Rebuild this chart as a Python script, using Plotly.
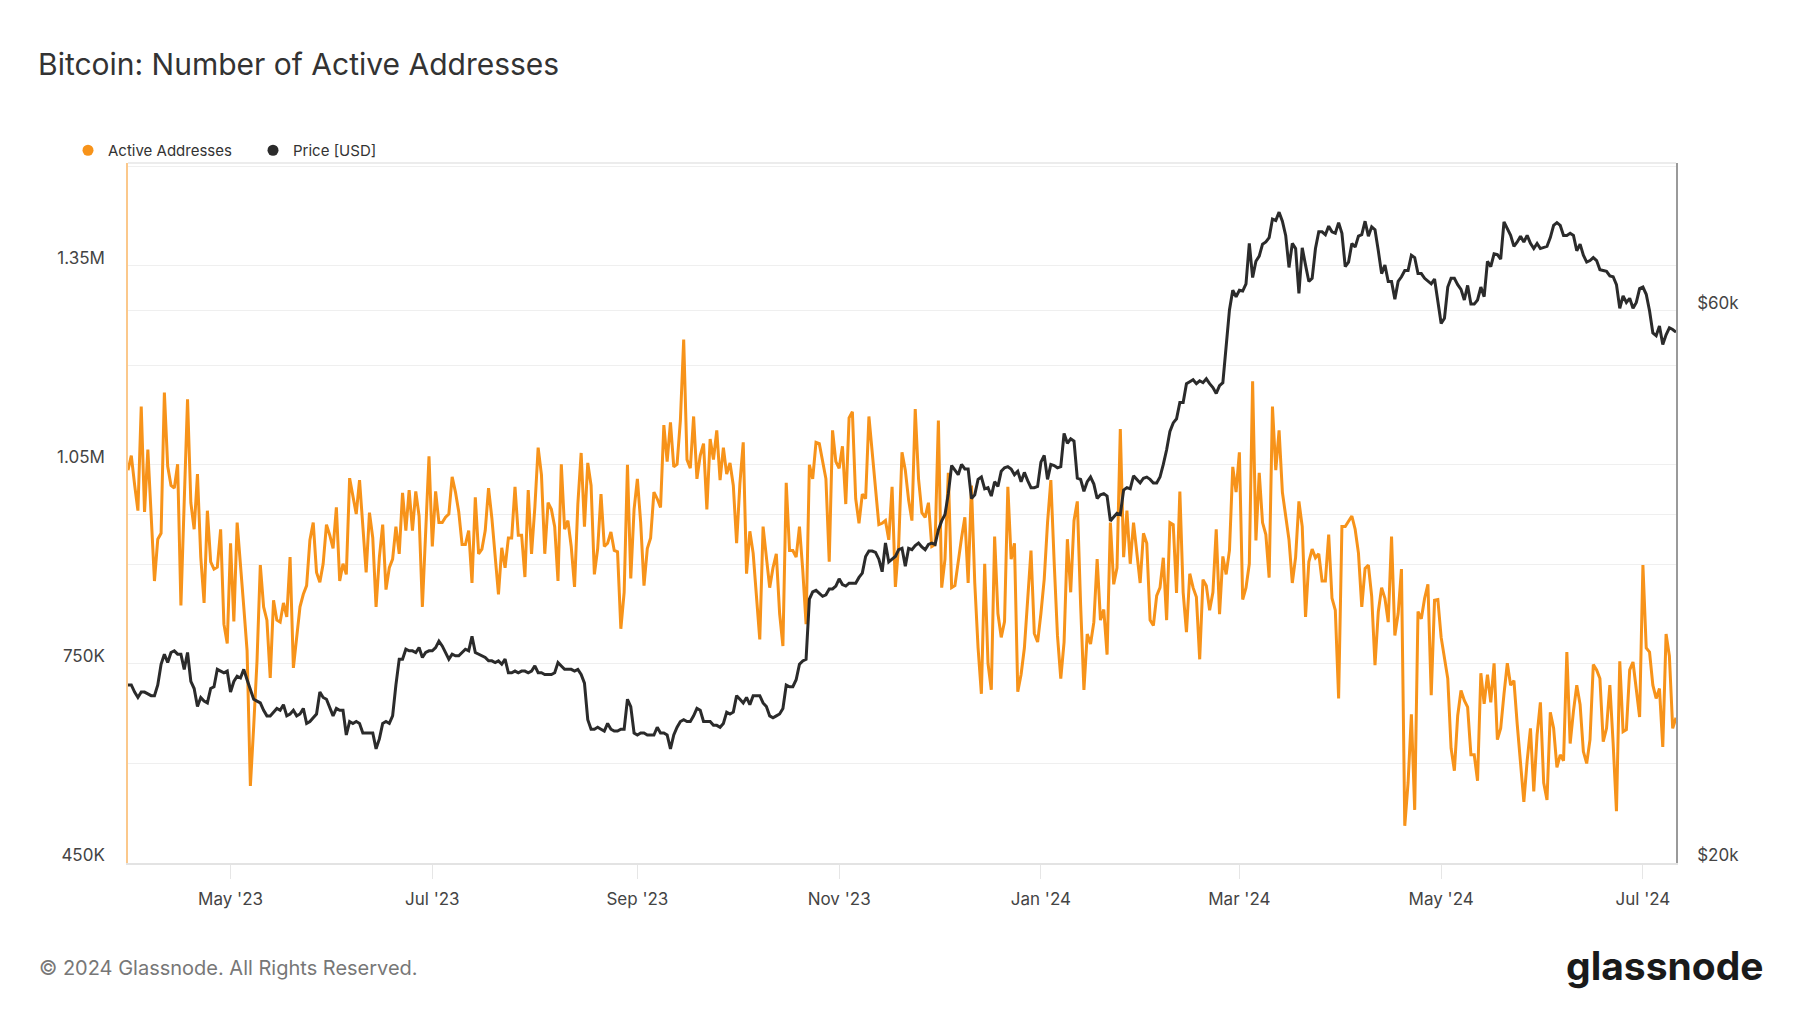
import pandas as pd
import plotly.graph_objects as go

# ---------------- data ----------------
START_DATE = "2023-03-31"

active_addresses_k = [
    1042, 1064, 1020, 981, 1138, 979, 1073, 980, 875, 938,
    947, 1159, 1048, 1019, 1015, 1051, 838, 995, 1149, 993,
    953, 1036, 911, 842, 981, 904, 893, 896, 953, 810,
    781, 932, 814, 963, 904, 836, 770, 566, 656, 754,
    899, 836, 816, 729, 846, 816, 813, 842, 821, 911,
    744, 787, 836, 855, 868, 937, 963, 888, 873, 901,
    960, 944, 924, 986, 875, 901, 885, 1030, 1002, 976,
    1027, 950, 888, 978, 940, 836, 911, 960, 862, 895,
    908, 957, 916, 1008, 951, 1012, 951, 1010, 973, 836,
    963, 1063, 927, 1010, 963, 963, 971, 976, 1032, 1009,
    979, 930, 930, 951, 872, 1001, 916, 923, 951, 1015,
    970, 911, 855, 925, 895, 940, 940, 1017, 944, 944,
    881,
    1012, 916, 986, 1076, 1035, 916, 993, 983, 957, 875,
    1051, 953, 966, 927, 866, 991, 1068, 957, 1053, 1019,
    885, 924, 1006, 927, 932, 949, 921, 919, 803, 858,
    1050, 879, 983, 1029, 963, 868, 924, 940, 1009, 999,
    986, 1110, 1055, 1114, 1047, 1051, 1117, 1239, 1058, 1045,
    1123, 1029, 1064, 1082, 983, 1089, 1058, 1102, 1027, 1076,
    1036, 1053, 1019, 932, 1022, 1084, 886, 950, 917, 855,
    787, 957, 911, 865, 895, 916, 826, 777, 1023, 921,
    921, 911, 957, 891, 810, 1050, 1029, 1084, 1082, 1056,
    1029, 904, 1102, 1055, 1045, 1078, 991, 1121, 1130, 999,
    962, 1006, 999, 1123, 1071, 1019, 960, 962, 966, 937,
    1017, 866, 930, 1069,
    1042, 997, 966, 1134, 1029, 978,
    971, 993, 927, 930, 1117, 865, 908, 1038, 865, 868,
    908, 940, 971, 872, 1019, 872, 774, 705, 901, 751,
    711, 942, 826, 790, 814, 1017, 908, 932, 708, 734,
    774, 847, 921, 796, 783, 826, 878, 963, 1027, 904,
    793, 728, 783, 938, 858, 966, 995, 839, 711, 795,
    780, 813, 908, 816, 832, 764, 963, 870, 895, 1104,
    911, 981, 901, 963, 919, 872, 947, 932, 816, 808,
    853, 865, 910, 816, 963, 960, 857, 1010, 858, 798,
    886, 865, 851, 757, 877, 868, 831, 858, 953, 825,
    912, 885, 921, 1047, 1009, 1069, 847, 865, 901, 1176,
    936, 1038, 963, 945, 880, 1138, 1042, 1102, 1009, 971,
    937, 872, 911, 995, 957, 821, 904, 923, 910, 916,
    875, 875, 945, 849, 831, 698, 957, 957, 966, 973,
    953, 917, 836, 894, 899, 852, 748, 829, 865, 849,
    813, 942, 793, 826, 893, 506, 571, 674, 530, 829,
    818, 849, 870, 703, 846, 847, 790, 761, 728, 623,
    589, 672, 710, 695, 685, 613, 613, 574, 736, 690,
    734, 692, 751, 636, 653, 705, 751, 718, 725, 659,
    604, 542, 604, 653, 558, 643, 692, 571, 545, 677,
    653, 594, 613, 604, 768, 630, 679, 718, 689, 618,
    600, 636, 749, 741, 728, 633, 653, 718, 630, 528,
    754, 648, 651, 741, 753, 715, 670, 899, 774, 768,
    718, 698, 713, 625, 795, 762, 653, 669,
]

price_usd_k = [
    28.5, 28.5, 28.1, 27.8, 28.1, 28.1, 28.0, 27.9, 27.9, 28.5,
    29.7, 30.3, 29.8, 30.4, 30.5, 30.3, 30.3, 29.4, 30.4, 28.7,
    28.3, 27.3, 27.8, 27.6, 27.5, 28.3, 28.4, 29.4, 29.3, 29.2,
    29.3, 28.1, 28.7, 29.0, 28.9, 29.4, 28.8, 28.3, 27.7, 27.6,
    27.5, 27.1, 26.8, 26.8, 27.0, 27.2, 27.1, 27.4, 26.8, 26.9,
    27.1, 26.8, 26.9, 27.2, 26.4, 26.5, 26.7, 26.9, 28.1, 27.8,
    27.7, 27.2, 26.8, 27.2, 27.1, 27.1, 25.8, 26.5, 26.4, 26.5,
    26.4, 25.9, 25.9, 25.9, 25.9, 25.1, 25.6, 26.4, 26.5, 26.4,
    26.8, 28.5, 30.0, 30.0, 30.6, 30.5, 30.5, 30.4, 30.7, 30.1,
    30.4, 30.5, 30.5, 30.7, 31.1, 30.8, 30.4, 30.0, 30.3, 30.2,
    30.2, 30.4, 30.6, 30.5, 31.4, 30.4, 30.3, 30.2, 30.1, 29.9,
    29.9, 29.8, 29.9, 29.7, 30.0, 29.2, 29.2, 29.3, 29.2, 29.3,
    29.3,
    29.2, 29.3, 29.6, 29.2, 29.2, 29.1, 29.1, 29.1, 29.2, 29.8,
    29.6, 29.4, 29.4, 29.4, 29.3, 29.4, 29.1, 28.6, 26.6, 26.1,
    26.1, 26.2, 26.1, 26.0, 26.4, 26.1, 26.0, 26.0, 26.1, 26.1,
    27.7, 27.3, 25.9, 25.8, 25.9, 25.9, 25.8, 25.8, 25.8, 26.2,
    25.9, 25.9, 25.8, 25.1, 25.8, 26.2, 26.5, 26.6, 26.5, 26.5,
    26.8, 27.2, 27.1, 26.5, 26.5, 26.5, 26.3, 26.3, 26.2, 26.4,
    27.0, 26.9, 27.0, 27.9, 27.7, 27.5, 27.8, 27.4, 27.9, 27.9,
    27.9, 27.5, 27.3, 26.8, 26.7, 26.8, 26.9, 27.2, 28.5, 28.4,
    28.4, 28.8, 29.7, 29.9, 30.0, 33.8, 34.3, 34.4, 34.2, 34.0,
    34.1, 34.5, 34.5, 34.7, 35.2, 34.8, 34.7, 34.9, 34.9, 34.9,
    35.3, 35.6, 36.8, 37.2, 37.2, 37.1, 36.6, 35.7, 37.8, 36.4,
    36.6, 36.8, 37.3, 37.4,
    36.1, 37.4, 37.3, 37.6, 37.8, 37.5,
    37.3, 37.7, 37.8, 37.7, 38.8, 39.5, 40.0, 41.7, 44.1, 43.7,
    43.3, 44.2, 43.8, 43.8, 41.3, 41.6, 42.9, 43.1, 42.1, 42.2,
    41.5, 42.7, 42.3, 43.6, 43.9, 44.0, 43.8, 43.3, 43.6, 42.7,
    43.5, 42.8, 42.2, 42.2, 42.3, 44.4, 45.0, 42.9, 44.2, 44.1,
    43.9, 44.0, 47.0, 46.1, 46.5, 46.3, 43.0, 42.9, 41.9, 42.7,
    43.1, 42.5, 41.3, 41.6, 41.7, 41.5, 39.5, 39.8, 40.1, 40.0,
    42.0, 42.2, 42.1, 43.2, 42.9, 42.6, 43.0, 43.1, 42.9, 42.6,
    42.6, 43.1, 44.2, 45.5, 47.2, 48.0, 48.4, 50.0, 50.0, 51.9,
    52.1, 52.3, 51.9, 52.2, 52.0, 52.4, 51.9, 51.5, 50.9, 51.7,
    52.0, 55.9, 60.1, 62.5, 61.7, 62.5, 62.4, 63.3, 68.6, 64.1,
    66.2, 66.9, 68.5, 68.8, 69.4, 72.0, 71.8, 73.0, 71.7, 69.7,
    65.4, 68.6, 67.9, 62.1, 68.0, 65.7, 63.6, 64.0, 67.9, 70.2,
    70.2, 69.8, 71.0, 70.2, 70.0, 71.5, 70.0, 65.5, 66.1, 68.6,
    68.1, 69.6, 69.8, 71.7, 69.6, 70.9, 70.5, 67.6, 64.6, 65.7,
    63.6, 63.6, 61.4, 63.6, 64.2, 65.0, 65.0, 67.0, 66.7, 64.6,
    64.6, 64.0, 63.6, 63.3, 63.9, 61.0, 58.5, 59.1, 62.9, 64.0,
    64.0, 63.2, 62.6, 61.3, 63.1, 60.8, 60.8, 61.3, 62.9, 61.7,
    66.2, 65.5, 67.2, 67.1, 66.5, 71.6, 70.6, 69.7, 68.2, 68.8,
    69.6, 68.8, 69.7, 68.6, 67.9, 68.6, 67.9, 68.0, 68.2, 69.4,
    71.1, 71.5, 71.1, 69.7, 69.7, 70.0, 69.7, 67.6, 68.5, 67.0,
    66.1, 66.3, 66.7, 66.3, 65.1, 65.0, 64.9, 64.3, 64.2, 63.2,
    60.3, 61.8, 61.0, 61.5, 60.3, 61.0, 62.7, 62.9, 62.0, 60.0,
    57.4, 57.1, 58.2, 56.1, 57.2, 58.0, 57.8, 57.5,
]

x_tick_dates = ["2023-05-01", "2023-07-01", "2023-09-01", "2023-11-01",
                "2024-01-01", "2024-03-01", "2024-05-01", "2024-07-01"]
x_tick_labels = ["May '23", "Jul '23", "Sep '23", "Nov '23",
                 "Jan '24", "Mar '24", "May '24", "Jul '24"]

left_tick_values = [450000, 600000, 750000, 900000, 1050000, 1200000, 1350000, 1500000]
left_tick_labels = ["450K", "", "750K", "", "1.05M", "", "1.35M", ""]

right_tick_values = [20000, 40000, 60000, 80000]
right_tick_labels = ["$20k", "", "$60k", ""]

ORANGE = "#f7931a"
DARK = "#2b2b2b"
FONT = "Inter, Roboto, 'Open Sans', sans-serif"

# ---------------- build ----------------
aa_dates = pd.date_range(START_DATE, periods=len(active_addresses_k), freq="D")
px_dates = pd.date_range(START_DATE, periods=len(price_usd_k), freq="D")
aa_values = [v * 1000 for v in active_addresses_k]
px_values = [v * 1000 for v in price_usd_k]

# page body has an 8px default margin; figure sized to fit the 1800x1013 window
W, H = 1784, 997
PL, PT, PW, PH = 120, 155, 1548, 700   # plot area inside the figure


def px_x(x_abs):   # absolute window pixel -> paper x
    return (x_abs - 8 - PL) / PW


def px_y(y_abs):   # absolute window pixel -> paper y
    return 1 - (y_abs - 8 - PT) / PH


fig = go.Figure()

fig.add_trace(go.Scatter(
    x=aa_dates, y=aa_values, mode="lines", name="Active Addresses",
    line=dict(color=ORANGE, width=3), showlegend=False, yaxis="y",
))
fig.add_trace(go.Scatter(
    x=px_dates, y=px_values, mode="lines", name="Price [USD]",
    line=dict(color=DARK, width=3), showlegend=False, yaxis="y2",
))
# legend entries (dots)
fig.add_trace(go.Scatter(
    x=[None], y=[None], mode="markers", name="Active Addresses",
    marker=dict(color=ORANGE, size=11), showlegend=True,
))
fig.add_trace(go.Scatter(
    x=[None], y=[None], mode="markers", name="Price [USD]",
    marker=dict(color=DARK, size=11), showlegend=True, yaxis="y2",
))

x_start = aa_dates[0]
x_end = aa_dates[-1]

fig.update_layout(
    width=W, height=H,
    paper_bgcolor="white", plot_bgcolor="white",
    margin=dict(l=PL, r=W - PL - PW, t=PT, b=H - PT - PH),
    font=dict(family=FONT, color="#444444"),
    title=dict(
        text="Bitcoin: Number of Active Addresses",
        x=30 / W, xanchor="left", xref="container",
        y=1 - 56 / H, yanchor="middle", yref="container",
        font=dict(size=30, color="#333333", family=FONT),
    ),
    legend=dict(
        orientation="h", x=px_x(68), xanchor="left", y=px_y(167), yanchor="bottom",
        font=dict(size=15, color="#333333"), itemwidth=30,
        bgcolor="rgba(0,0,0,0)", tracegroupgap=0,
        entrywidth=140, entrywidthmode="pixels",
    ),
    xaxis=dict(
        type="date", range=[x_start, x_end],
        tickvals=x_tick_dates, ticktext=x_tick_labels,
        ticks="outside", ticklen=14, tickcolor="#e6e6e6", tickwidth=1,
        showgrid=False, showline=True, linecolor="#e3e3e3", linewidth=1.5,
        tickfont=dict(size=17, color="#444444"), ticklabelstandoff=6,
        zeroline=False,
    ),
    yaxis=dict(
        range=[450000, 1505000], tickvals=left_tick_values, ticktext=left_tick_labels,
        showgrid=True, gridcolor="#efefef", gridwidth=1,
        showline=True, linecolor="#fbc88b", linewidth=1.5,
        ticks="", tickfont=dict(size=17, color="#444444"),
        ticklabelstandoff=18, ticklabelshift=-8, zeroline=False,
    ),
    yaxis2=dict(
        type="log", overlaying="y", side="right",
        range=[4.30103, 4.9058],
        tickvals=right_tick_values, ticktext=right_tick_labels,
        showgrid=True, gridcolor="#efefef", gridwidth=1,
        showline=True, linecolor="#9a9a9a", linewidth=1.5,
        ticks="", tickfont=dict(size=17, color="#444444"),
        ticklabelstandoff=16, ticklabelshift=-8, zeroline=False,
    ),
    shapes=[
        dict(type="line", xref="paper", yref="paper", x0=0, x1=1, y0=1, y1=1,
             line=dict(color="#e6e6e6", width=1.5)),
    ],
    annotations=[
        dict(text="© 2024 Glassnode. All Rights Reserved.", xref="paper", yref="paper",
             x=px_x(37), y=px_y(968), xanchor="left", yanchor="middle",
             showarrow=False, font=dict(size=20, color="#777777", family=FONT)),
        dict(text="<b>glassnode</b>", xref="paper", yref="paper",
             x=px_x(1766), y=px_y(965), xanchor="right", yanchor="middle",
             showarrow=False, font=dict(size=39, color="#1a1a1a", family=FONT)),
    ],
)

fig.write_html("out.html")
